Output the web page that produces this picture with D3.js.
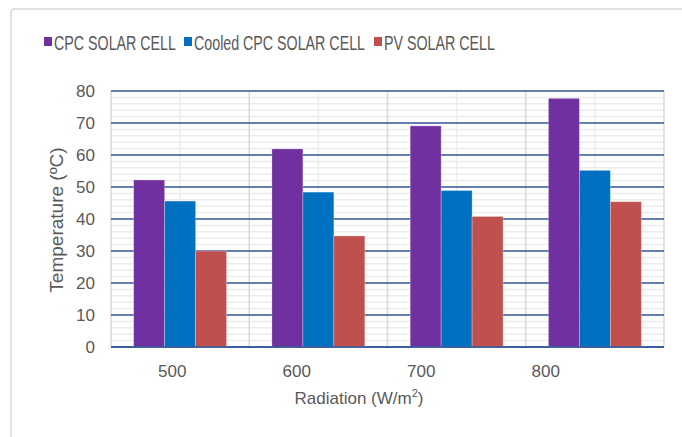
<!DOCTYPE html>
<html>
<head>
<script src="https://d3js.org/d3.v7.min.js"></script>
<style>
  body { margin: 0; background: #fff; }
  text { font-family: "Liberation Sans", Arial, sans-serif; fill: #595959; }
</style>
</head>
<body>
<svg width="682" height="437"></svg>
<script>
const categories = ["500", "600", "700", "800"];
const seriesNames = ["CPC SOLAR CELL", "Cooled CPC SOLAR CELL", "PV SOLAR CELL"];
const cpc = [52.2, 61.9, 69.1, 77.7];
const cooledCpc = [45.6, 48.4, 48.9, 55.2];
const pv = [30.0, 34.7, 40.8, 45.4];
const colors = ["#7030A0", "#0070C0", "#C0504D"];
const yTicks = [0, 10, 20, 30, 40, 50, 60, 70, 80];

const series = [cpc, cooledCpc, pv];

const svg = d3.select("svg");
const plotL = 111, plotR = 664, plotT = 91, plotB = 347;

// chart frame
svg.append("rect")
  .attr("x", 11).attr("y", 9)
  .attr("width", 690).attr("height", 440)
  .attr("rx", 3)
  .attr("fill", "none")
  .attr("stroke", "#d9d9d9")
  .attr("stroke-width", 1.5);

const y = d3.scaleLinear().domain([0, 80]).range([plotB, plotT]);
const x = d3.scaleBand().domain(categories).range([plotL, plotR])
  .paddingInner(0.328).paddingOuter(0.164);
const xCat = d3.scaleBand().domain(categories).range([plotL, plotR]);
const xSub = d3.scaleBand().domain(d3.range(series.length)).range([0, x.bandwidth()]);
// tick labels sit a bit left of the group centres in the picture
const xLabel = d3.scaleBand().domain(categories).range([110, 608]);

// minor horizontal grid
const g = svg.append("g");
g.selectAll("line.minor")
  .data(d3.range(0, 81, 2).filter(v => v % 10 !== 0))
  .join("line")
  .attr("x1", plotL).attr("x2", plotR)
  .attr("y1", d => y(d)).attr("y2", d => y(d))
  .attr("stroke", "#ececec").attr("stroke-width", 1.5);

// vertical grid: category centres (minor) and boundaries (major)
g.selectAll("line.vmin")
  .data(categories)
  .join("line")
  .attr("x1", d => xCat(d) + xCat.bandwidth() / 2)
  .attr("x2", d => xCat(d) + xCat.bandwidth() / 2)
  .attr("y1", plotT).attr("y2", plotB)
  .attr("stroke", "#ededed").attr("stroke-width", 1.5);
g.selectAll("line.vmaj")
  .data(categories.concat(["end"]))
  .join("line")
  .attr("x1", (d, i) => i < categories.length ? xCat(d) : plotR)
  .attr("x2", (d, i) => i < categories.length ? xCat(d) : plotR)
  .attr("y1", plotT).attr("y2", plotB)
  .attr("stroke", "#d9d9d9").attr("stroke-width", 1.5);

// major horizontal grid
svg.append("g").selectAll("line")
  .data(yTicks)
  .join("line")
  .attr("x1", plotL).attr("x2", plotR)
  .attr("y1", d => y(d)).attr("y2", d => y(d))
  .attr("stroke", "#2F5597").attr("stroke-width", 1.5);

// bars
svg.append("g").selectAll("g")
  .data(series)
  .join("g")
  .attr("fill", (d, i) => colors[i])
  .each(function (vals, si) {
    d3.select(this).selectAll("rect")
      .data(vals)
      .join("rect")
      .attr("x", (v, ci) => x(categories[ci]) + xSub(si))
      .attr("width", xSub.bandwidth())
      .attr("y", v => y(v))
      .attr("height", v => plotB - y(v))
      .attr("stroke", "rgba(255,255,255,0.35)")
      .attr("stroke-width", 0.8);
  });

// baseline
svg.append("line")
  .attr("x1", plotL).attr("x2", plotR)
  .attr("y1", y(0)).attr("y2", y(0))
  .attr("stroke", "#2F5597").attr("stroke-width", 1.5);

// y tick labels
svg.append("g").selectAll("text")
  .data(yTicks)
  .join("text")
  .attr("x", 95).attr("y", d => y(d) + 6)
  .attr("text-anchor", "end")
  .attr("font-size", 17)
  .text(d => d);

// x tick labels
svg.append("g").selectAll("text")
  .data(categories)
  .join("text")
  .attr("x", d => xLabel(d) + xLabel.bandwidth() / 2)
  .attr("y", 377)
  .attr("text-anchor", "middle")
  .attr("font-size", 17)
  .text(d => d);

// axis titles
const xt = svg.append("text")
  .attr("x", 359).attr("y", 404)
  .attr("text-anchor", "middle")
  .attr("font-size", 17);
xt.append("tspan").text("Radiation (W/m");
xt.append("tspan").attr("dy", -7).attr("font-size", 11).text("2");
xt.append("tspan").attr("dy", 7).text(")");

svg.append("text")
  .attr("transform", "translate(63,220) rotate(-90)")
  .attr("text-anchor", "middle")
  .attr("font-size", 19)
  .text("Temperature (ºC)");

// legend (text in the picture is narrow, so squeeze it horizontally)
const legendX = [44, 184, 374];
const legendW = [122, 171, 111];
const lg = svg.append("g").selectAll("g")
  .data(seriesNames)
  .join("g")
  .attr("transform", (d, i) => `translate(${legendX[i]},0)`);
lg.append("rect")
  .attr("x", 0).attr("y", 37).attr("width", 8).attr("height", 9)
  .attr("fill", (d, i) => colors[i]);
lg.append("text")
  .attr("font-size", 20)
  .text(d => d)
  .attr("transform", function (d, i) {
    const w = this.getComputedTextLength();
    return `translate(10,50) scale(${legendW[i] / w},1)`;
  });
</script>
</body>
</html>
